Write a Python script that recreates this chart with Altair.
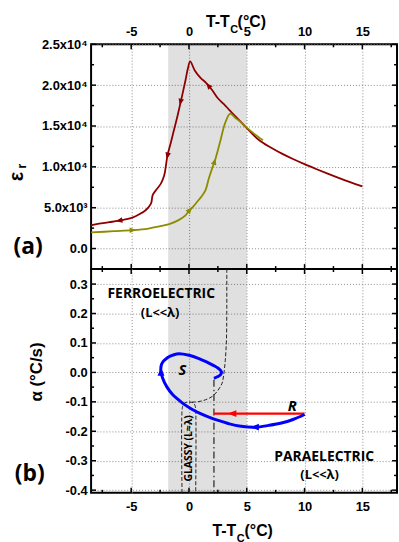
import altair as alt
import pandas as pd

# ---------------- shared x (T - Tc) ----------------
X_DOMAIN = [-8.47, 18.0]
X_MAJOR = [-5, 0, 5, 10, 15]
X_MINOR = [-7.5, -2.5, 2.5, 7.5, 12.5, 17.5]
BAND = [-1.8, 5.0]

# ---------------- panel (a): eps_r ----------------
EPS_DOMAIN = [-2510, 25000]
EPS_MAJOR = [0, 5000, 10000, 15000, 20000, 25000]
EPS_LABELS = ["0.0", "5.0x10³", "1.0x10⁴", "1.5x10⁴", "2.0x10⁴", "2.5x10⁴"]
EPS_MINOR = [2500, 7500, 12500, 17500, 22500]

COOL_T = [15.0, 14.0, 13.0, 12.0, 11.0, 10.0, 9.0, 8.0, 7.0, 6.0,
          5.0, 4.0, 3.5, 3.0, 2.5, 2.0, 1.5, 1.0, 0.5, 0.1,
          -0.1, -0.3, -0.7, -1.0, -1.3, -1.6, -1.86, -2.0, -2.14, -2.43,
          -2.8, -3.14, -3.28, -3.7, -4.3, -4.9, -5.7, -6.9, -8.0, -8.47]
COOL_EPS = [7600, 8100, 8620, 9170, 9740, 10330, 10960, 11650, 12420, 13350,
            14750, 16200, 16950, 17700, 18400, 19400, 20250, 20900, 21800, 22900,
            22000, 20600, 18050, 16200, 14500, 12800, 11400, 10100, 8960, 7940,
            7250, 6540, 5520, 4750, 4190, 3790, 3510, 3220, 2980, 2850]

HEAT_T = [-8.47, -6.5, -4.86, -3.5, -2.57, -1.71, -0.86, -0.3, 0.0, 0.4,
          0.71, 1.1, 1.43, 1.71, 2.0, 2.29, 2.7, 3.14, 3.57, 4.0,
          4.5, 5.0, 5.6, 6.4]
HEAT_EPS = [1970, 2120, 2250, 2450, 2700, 2980, 3510, 4050, 4600, 5200,
            5730, 6400, 7140, 8550, 9800, 10970, 13100, 15410, 16500, 16000,
            15450, 14800, 14100, 13250]

COOL_ARROW_T = [-6.0, -1.85, -0.72, 1.7]
COOL_ARROW_EPS = [3440, 11400, 18000, 19900]
COOL_ARROW_DIR = [260, 192, 193, 320]
HEAT_ARROW_T = [-4.9, 0.05, 2.2]
HEAT_ARROW_EPS = [2250, 4680, 10600]
HEAT_ARROW_DIR = [88, 41, 17]

# ---------------- panel (b): alpha ----------------
A_DOMAIN = [-0.409, 0.351]
A_MAJOR = [-0.4, -0.3, -0.2, -0.1, 0.0, 0.1, 0.2, 0.3]
A_MINOR = [-0.35, -0.25, -0.15, -0.05, 0.05, 0.15, 0.25]

LOOP_T = [10.0, 9.0, 8.0, 6.9, 5.75, 4.5, 3.5, 2.87, 2.0, 1.0,
          0.29, -0.5, -1.0, -1.44, -1.9, -2.3, -2.44, -2.35, -1.87, -1.3,
          -0.86, 0.0, 0.86, 1.6, 2.1, 2.5, 2.8, 2.75, 2.5, 2.16]
LOOP_A = [-0.143, -0.160, -0.172, -0.180, -0.186, -0.183, -0.175, -0.167, -0.156, -0.140,
          -0.126, -0.106, -0.090, -0.074, -0.050, -0.017, 0.008, 0.030, 0.050, 0.060,
          0.063, 0.058, 0.047, 0.034, 0.024, 0.015, 0.003, -0.007, -0.014, -0.020]

R_T = [2.16, 10.0]
R_A = [-0.14, -0.14]

DASH_T = [3.27, 3.27, 3.24, 3.14, 3.0, 2.86, 2.43, 2.0, 1.43, 0.86, 0.3, 0.0]
DASH_A = [0.351, 0.2, 0.11, 0.041, -0.009, -0.037, -0.065, -0.082, -0.093, -0.099, -0.101, -0.101]

GLASS_T = [-0.6, -0.6, -0.52, -0.35, 0.0, 0.35, 0.52, 0.58, 0.58]
GLASS_A = [-0.409, -0.13, -0.112, -0.103, -0.101, -0.103, -0.112, -0.13, -0.409]

DASHDOT_T = [2.16, 2.16]
DASHDOT_A = [-0.025, -0.409]

B_ARROW_T = [3.8, 5.75, -2.42]
B_ARROW_A = [-0.14, -0.186, 0.0]
B_ARROW_DIR = [270, 270, 0]
B_ARROW_COL = ["#ff0000", "#0000ff", "#0000ff"]

PHASE_TEXT = ["FERROELECTRIC", "(L<<λ)", "PARAELECTRIC", "(L<<λ)"]
PHASE_T = [-2.4, -2.5, 11.7, 11.3]
PHASE_A = [0.266, 0.202, -0.288, -0.35]
PHASE_SIZE = [14, 13, 14, 13]
PATH_TEXT = ["S", "R"]
PATH_T = [-0.57, 8.94]
PATH_A = [0.008, -0.116]
GLASSY_TEXT = "GLASSY (L≈λ)"
GLASSY_T = 0.0
GLASSY_A = -0.258

# ---------------- layout constants ----------------
W = 309
H1 = 227
H2 = 226
FONT = "Liberation Sans"
CAL = "Open Sans"
DARKRED = "#8e0000"
OLIVE = "#8c8c00"
ARROW = "M0,-1L0.7,0.7L-0.7,0.7Z"

xs = alt.Scale(domain=X_DOMAIN, nice=False, zero=False)
ys_top = alt.Scale(domain=EPS_DOMAIN, nice=False, zero=False)
ys_bot = alt.Scale(domain=A_DOMAIN, nice=False, zero=False)

fix_minus = "replace(datum.label, '−', '-')"


def eps_label_expr():
    expr = "''"
    for v, lab in reversed(list(zip(EPS_MAJOR, EPS_LABELS))):
        expr = f"abs(datum.value - {v}) < 1 ? '{lab}' : ({expr})"
    return expr


def x_enc(orient):
    return alt.X("x:Q", scale=xs, axis=alt.Axis(
        orient=orient, values=X_MAJOR, title="", labelExpr=fix_minus,
        labelPadding=6 if orient == "top" else 8, grid=True))


def y_top_enc():
    return alt.Y("y:Q", scale=ys_top, axis=alt.Axis(
        values=EPS_MAJOR, title="", labelExpr=eps_label_expr(), labelPadding=4, grid=True))


def y_bot_enc():
    return alt.Y("y:Q", scale=ys_bot, axis=alt.Axis(
        values=A_MAJOR, format=".1f", title="", labelExpr=fix_minus, labelPadding=4, grid=True))


def series(xv, yv, **extra):
    d = {"x": xv, "y": yv, "i": list(range(len(xv)))}
    d.update(extra)
    return pd.DataFrame(d)


def ticks(xenc, yenc, H, xmaj, xmin, ymaj, ymin):
    layers = []
    for vals, ln in ((xmaj, 5), (xmin, 3)):
        df = pd.DataFrame({"x": vals})
        base = alt.Chart(df).mark_rule(color="black", strokeWidth=1.5)
        layers.append(base.encode(x=xenc, y=alt.value(0), y2=alt.value(ln)))
        layers.append(base.encode(x=xenc, y=alt.value(H), y2=alt.value(H - ln)))
    for vals, ln in ((ymaj, 5), (ymin, 3)):
        df = pd.DataFrame({"y": vals})
        base = alt.Chart(df).mark_rule(color="black", strokeWidth=1.5)
        layers.append(base.encode(y=yenc, x=alt.value(0), x2=alt.value(ln)))
        layers.append(base.encode(y=yenc, x=alt.value(W), x2=alt.value(W - ln)))
    return layers


def ptext(txt, px, py, size, font=FONT, angle=0, align="center", baseline="middle", style="normal"):
    kw = dict(text=txt, fontSize=size, font=font, fontWeight="bold", align=align,
              baseline=baseline, color="black", fontStyle=style)
    if angle:
        kw["angle"] = angle
    return alt.Chart(pd.DataFrame({"t": [txt]})).mark_text(**kw).encode(
        x=alt.value(px), y=alt.value(py))


def band_layer(xenc, H):
    return alt.Chart(pd.DataFrame({"x": [BAND[0]], "x2": [BAND[1]]})).mark_rect(
        color="black", opacity=0.12).encode(x=xenc, x2="x2:Q", y=alt.value(0), y2=alt.value(H))


# ---------------- top panel ----------------
xt = x_enc("top")
yt = y_top_enc()

top_layers = [band_layer(xt, H1)]
top_layers.append(alt.Chart(series(COOL_T, COOL_EPS)).mark_line(
    color=DARKRED, strokeWidth=1.8, interpolate="catmull-rom").encode(x=xt, y=yt, order="i:Q"))
top_layers.append(alt.Chart(series(HEAT_T, HEAT_EPS)).mark_line(
    color=OLIVE, strokeWidth=1.8, interpolate="catmull-rom").encode(x=xt, y=yt, order="i:Q"))
top_layers.append(alt.Chart(series(COOL_ARROW_T, COOL_ARROW_EPS, a=COOL_ARROW_DIR)).mark_point(
    shape=ARROW, filled=True, color=DARKRED, size=64, opacity=1).encode(
    x=xt, y=yt, angle=alt.Angle("a:Q", scale=None)))
top_layers.append(alt.Chart(series(HEAT_ARROW_T, HEAT_ARROW_EPS, a=HEAT_ARROW_DIR)).mark_point(
    shape=ARROW, filled=True, color=OLIVE, size=64, opacity=1).encode(
    x=xt, y=yt, angle=alt.Angle("a:Q", scale=None)))
top_layers += ticks(xt, yt, H1, X_MAJOR, X_MINOR, EPS_MAJOR, EPS_MINOR)
# titles
top_layers.append(ptext("T-T", 140, -17.7, 16, align="right", baseline="alphabetic"))
top_layers.append(ptext("C", 140.5, -11, 11, align="left", baseline="alphabetic"))
top_layers.append(ptext("(°C)", 148, -17.7, 16, align="left", baseline="alphabetic"))
top_layers.append(ptext("ε", -74.5, 133.5, 20, angle=270))
top_layers.append(ptext("r", -70, 123, 12, angle=270))
top_layers.append(ptext("(a)", -63.5, 204.5, 23, font=CAL))
# bounds anchor (window top-left corner)
top_layers.append(alt.Chart(pd.DataFrame({"t": [0]})).mark_rule(strokeOpacity=0, strokeWidth=0).encode(
    x=alt.value(-91), x2=alt.value(-91), y=alt.value(-41), y2=alt.value(-41)))

top = alt.layer(*top_layers).properties(width=W, height=H1)

# ---------------- bottom panel ----------------
xb = x_enc("bottom")
yb = y_bot_enc()

bot_layers = [band_layer(xb, H2)]
bot_layers.append(alt.Chart(series(DASH_T, DASH_A)).mark_line(
    color="#222222", strokeWidth=1, strokeDash=[4, 2], interpolate="catmull-rom").encode(
    x=xb, y=yb, order="i:Q"))
bot_layers.append(alt.Chart(series(GLASS_T, GLASS_A)).mark_line(
    color="#222222", strokeWidth=1, strokeDash=[4, 2], interpolate="catmull-rom").encode(
    x=xb, y=yb, order="i:Q"))
bot_layers.append(alt.Chart(series(DASHDOT_T, DASHDOT_A)).mark_line(
    color="#222222", strokeWidth=1.2, strokeDash=[7, 3, 1.5, 3]).encode(x=xb, y=yb, order="i:Q"))
bot_layers.append(alt.Chart(series(R_T, R_A)).mark_line(
    color="#ff0000", strokeWidth=2.2).encode(x=xb, y=yb, order="i:Q"))
bot_layers.append(alt.Chart(series(LOOP_T, LOOP_A)).mark_line(
    color="#0000ff", strokeWidth=3, interpolate="catmull-rom").encode(x=xb, y=yb, order="i:Q"))
bot_layers.append(alt.Chart(series(B_ARROW_T, B_ARROW_A, a=B_ARROW_DIR, c=B_ARROW_COL)).mark_point(
    shape=ARROW, filled=True, size=100, opacity=1).encode(
    x=xb, y=yb, angle=alt.Angle("a:Q", scale=None), color=alt.Color("c:N", scale=None)))
bot_layers.append(alt.Chart(pd.DataFrame({"x": PHASE_T, "y": PHASE_A, "t": PHASE_TEXT, "s": PHASE_SIZE})).mark_text(
    font=CAL, fontWeight="bold", color="black").encode(
    x=xb, y=yb, text="t:N", size=alt.Size("s:Q", scale=None, legend=None)))
bot_layers.append(alt.Chart(pd.DataFrame({"x": PATH_T, "y": PATH_A, "t": PATH_TEXT})).mark_text(
    font=CAL, fontWeight="bold", fontStyle="italic", fontSize=15, color="black").encode(
    x=xb, y=yb, text="t:N"))
bot_layers.append(alt.Chart(pd.DataFrame({"x": [GLASSY_T], "y": [GLASSY_A], "t": [GLASSY_TEXT]})).mark_text(
    font=CAL, fontWeight="bold", fontSize=10.5, angle=270, color="black").encode(
    x=xb, y=yb, text="t:N"))
bot_layers += ticks(xb, yb, H2, X_MAJOR, X_MINOR, A_MAJOR, A_MINOR)
bot_layers.append(ptext("T-T", 146.5, 269.3, 16, align="right", baseline="alphabetic"))
bot_layers.append(ptext("C", 147, 276, 11, align="left", baseline="alphabetic"))
bot_layers.append(ptext("(°C)", 155, 269.3, 16, align="left", baseline="alphabetic"))
bot_layers.append(ptext("α (°C/s)", -55, 104, 17, angle=270))
bot_layers.append(ptext("(b)", -62, 207, 23, font=CAL))

bottom = alt.layer(*bot_layers).properties(width=W, height=H2)

chart = alt.vconcat(top, bottom, spacing=0, bounds="flush", padding=0, background="white").configure_view(
    stroke="black", strokeWidth=2
).configure_axis(
    labelFont=FONT, labelFontWeight="bold", labelFontSize=13, labelColor="black",
    ticks=False, domain=False, labelFlush=False, labelOverlap=False,
    gridColor="#8c8c8c", gridDash=[1, 2], gridWidth=1
)

chart.save("out.html", embed_options={"renderer": "svg", "actions": False})
